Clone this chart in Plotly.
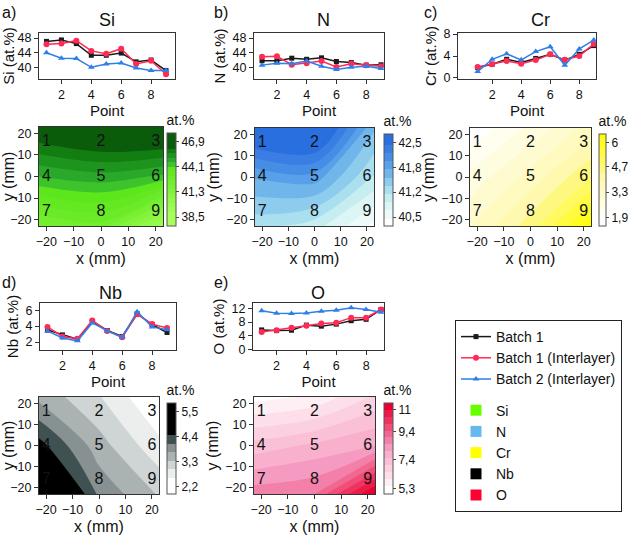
import plotly.graph_objects as go

W, H = 633, 537

points = [1, 2, 3, 4, 5, 6, 7, 8, 9]
elements = ["Si", "N", "Cr", "Nb", "O"]
letters = ["a)", "b)", "c)", "d)", "e)"]
series_names = ["Batch 1", "Batch 1 (Interlayer)", "Batch 2 (Interlayer)"]

# line-plot values (at.%) per point 1..9
si_b1 = [47.1, 47.5, 46.5, 43.3, 43.3, 43.9, 41.5, 42.0, 39.1]
si_b1i = [46.3, 46.5, 47.3, 44.5, 43.7, 45.1, 40.9, 41.8, 38.1]
si_b2i = [44.0, 42.5, 42.4, 40.0, 40.9, 41.2, 39.8, 39.1, 39.1]

n_b1 = [41.8, 41.8, 42.5, 42.2, 42.6, 41.6, 41.3, 40.6, 40.7]
n_b1i = [42.9, 43.0, 40.7, 41.1, 41.7, 40.1, 41.0, 40.6, 40.3]
n_b2i = [40.6, 41.1, 41.0, 41.7, 40.3, 39.4, 40.0, 40.3, 39.7]

cr_b1 = [1.9, 2.5, 3.4, 2.8, 3.55, 4.3, 3.25, 4.3, 5.9]
cr_b1i = [2.0, 2.5, 3.1, 2.6, 3.25, 4.3, 3.3, 4.0, 6.2]
cr_b2i = [1.15, 3.4, 4.4, 3.3, 4.8, 5.7, 2.3, 5.3, 6.9]

nb_b1 = [3.5, 2.9, 2.35, 4.6, 3.45, 2.7, 5.55, 4.2, 3.2]
nb_b1i = [3.9, 2.7, 2.4, 4.7, 3.4, 2.6, 5.5, 4.25, 3.75]
nb_b2i = [3.4, 2.5, 2.15, 4.4, 3.4, 2.6, 5.8, 3.9, 3.55]

o_b1 = [5.7, 5.5, 5.6, 7.1, 6.8, 7.4, 8.4, 8.8, 11.7]
o_b1i = [5.1, 5.6, 6.3, 6.9, 7.6, 7.8, 9.3, 9.3, 11.7]
o_b2i = [11.35, 10.6, 10.5, 10.7, 11.2, 11.5, 12.2, 11.7, 10.9]

# mapped values, rows ordered bottom (7,8,9), middle (4,5,6), top (1,2,3)
si_map = [[42.0, 42.4, 39.3], [44.6, 44.9, 44.5], [46.8, 47.3, 47.4]]
n_map = [[41.2, 41.0, 40.4], [41.8, 41.9, 41.1], [42.9, 43.0, 41.6]]
cr_map = [[3.4, 4.6, 6.5], [2.6, 3.6, 4.8], [1.6, 2.6, 3.6]]
nb_map = [[5.9, 4.0, 3.3], [4.6, 3.5, 2.7], [3.6, 3.0, 2.2]]
o_map = [[8.8, 9.0, 11.6], [7.2, 7.6, 8.0], [5.3, 5.6, 6.6]]

grid_x = [-22.7, 0, 22.7]   # sample extent (mm)
grid_y = [-23, 0, 23]
label_x = [-20, 0, 20, -20, 0, 20, -20, 0, 20]
label_y = [16, 16, 16, 0, 0, 0, -16.5, -16.5, -16.5]
label_text = [str(p) for p in points]

cbar_ticks = {
    "Si": ([38.5, 41.3, 44.1, 46.9], ["38,5", "41,3", "44,1", "46,9"]),
    "N": ([40.5, 41.17, 41.83, 42.5], ["40,5", "41,2", "41,8", "42,5"]),
    "Cr": ([1.9, 3.3, 4.7, 6.0], ["1,9", "3,3", "4,7", "6"]),
    "Nb": ([2.2, 3.3, 4.4, 5.5], ["2,2", "3,3", "4,4", "5,5"]),
    "O": ([5.3, 7.4, 9.4, 11.0], ["5,3", "7,4", "9,4", "11"]),
}
line_yticks = {"Si": [40, 44, 48], "N": [40, 44, 48], "Cr": [0, 4, 8],
               "Nb": [2, 4, 6], "O": [0, 4, 8, 12]}

line_data = {"Si": (si_b1, si_b1i, si_b2i), "N": (n_b1, n_b1i, n_b2i),
             "Cr": (cr_b1, cr_b1i, cr_b2i), "Nb": (nb_b1, nb_b1i, nb_b2i),
             "O": (o_b1, o_b1i, o_b2i)}
map_data = {"Si": si_map, "N": n_map, "Cr": cr_map, "Nb": nb_map, "O": o_map}

# ---------- styling / layout (pixels) ----------
line_colors = ["#1a1a1a", "#ff2a55", "#2f7fe8"]
symbols = ["square", "circle", "triangle-up"]
msizes = [5, 6, 6]


def hex2rgb(h):
    h = h.lstrip("#")
    return [int(h[i:i + 2], 16) for i in (0, 2, 4)]


def ramp(c0, c1, n):
    a, b = hex2rgb(c0), hex2rgb(c1)
    out = []
    for k in range(n):
        t = k / (n - 1) if n > 1 else 0
        out.append("#%02x%02x%02x" % tuple(round(a[j] + (b[j] - a[j]) * t) for j in range(3)))
    return out


# contour levels: (start, size, count); band colours bottom -> top (count + 1)
levels = {"Si": (39.1, 0.5, 15), "N": (40.46, 0.22, 10), "Cr": (2.0, 0.47, 10),
          "Nb": (2.6, 0.37, 6), "O": (5.5, 0.5, 12)}
bands = {
    "Si": ramp("#a8ff5a", "#5ce61c", 11) + ["#3cc42a", "#2aa82a", "#1d941d", "#127e12", "#0a5c0a"],
    "N": ["#ffffff", "#eefafa", "#dcf5f5", "#c6eef0", "#aadfef", "#8ecced", "#70b6eb",
          "#58a0e9", "#468de6", "#3a7ee4", "#2a6fe0"],
    "Cr": ramp("#ffffff", "#fff9b0", 6) + ramp("#fff6a0", "#ffff00", 6)[1:],
    "Nb": ["#ffffff", "#eceeee", "#cfd5d5", "#aab2b2", "#879191", "#3f5151", "#000000"],
    "O": ramp("#ffffff", "#f8b0cc", 6) + ramp("#f59ac0", "#ea0030", 7),
}
zlims = {"Si": (37.5, 47.85), "N": (40.26, 42.73), "Cr": (1.46, 6.45), "Nb": (1.88, 5.87),
         "O": (4.9, 11.5)}

# [line x0,x1,y0,y1], [map x0,x1,y0,y1], colorbar x, cbar thickness, line xrange, line yrange
panel = {
    "Si": ((39, 175, 33, 79), (39, 163, 127, 226), 167, 9, [0.5, 9.6], [36.8, 49.4]),
    "N": ((254, 384, 33, 79), (255, 374, 128, 226), 384, 9, [0.46, 9.2], [36.8, 49.4]),
    "Cr": ((458, 596, 33, 79), (470, 591, 128, 226), 599, 7, [-0.35, 9.15], [-0.2, 8.2]),
    "Nb": ((40, 176, 303, 350), (39, 159, 397, 494), 167, 9, [0.5, 9.6], [1.0, 6.9]),
    "O": ((253, 384, 303, 350), (254, 375, 397, 494), 384, 9, [0.42, 9.2], [-0.2, 13.6]),
}
title_pos = {"Si": (107, 20), "N": (323, 20), "Cr": (540, 20), "Nb": (110, 293), "O": (318, 293)}
letter_pos = {"Si": (0, 2), "N": (212, 2), "Cr": (422, 2), "Nb": (0, 272), "O": (212, 272)}
CB_TITLE_H = 15

FONT = "Liberation Sans, Arial, sans-serif"


def fx(px):
    return px / W


def fy(py):
    return 1 - py / H


fig = go.Figure()
layout = dict(
    width=W, height=H, margin=dict(l=0, r=0, t=0, b=0, autoexpand=False),
    paper_bgcolor="white", plot_bgcolor="white",
    font=dict(family=FONT, size=12, color="#111"),
    showlegend=True,
    annotations=[],
)

axis_common = dict(showline=True, linecolor="#333", linewidth=1, mirror=True,
                   ticks="outside", ticklen=4, tickcolor="#333", showgrid=False,
                   zeroline=False, tickfont=dict(size=12.5, color="#111"))

for i, el in enumerate(elements):
    lx, ly = 2 * i + 1, 2 * i + 2
    (l0, l1, lt, lb), (m0, m1, mt, mb), cbx, cbt, xr, yr = panel[el]
    # line plot
    for k in range(3):
        fig.add_trace(go.Scatter(
            x=points, y=line_data[el][k], mode="lines+markers",
            line=dict(color=line_colors[k], width=1.5),
            marker=dict(symbol=symbols[k], size=msizes[k], color=line_colors[k]),
            name=series_names[k], legendgroup="series", showlegend=(i == 0),
            xaxis=f"x{lx}", yaxis=f"y{lx}"))
    layout[f"xaxis{lx}"] = dict(axis_common, domain=[fx(l0), fx(l1)], anchor=f"y{lx}",
                                range=xr, tickvals=[2, 4, 6, 8],
                                title=dict(text="Point", font=dict(size=15), standoff=2))
    layout[f"yaxis{lx}"] = dict(axis_common, domain=[fy(lb), fy(lt)], anchor=f"x{lx}",
                                range=yr, tickvals=line_yticks[el],
                                title=dict(text=f"{el} (at.%)", font=dict(size=15), standoff=3))
    # contour map
    s0, ss, nlev = levels[el]
    bl = bands[el]
    cscale = [[j / (len(bl) - 1), c] for j, c in enumerate(bl)]
    z0, z1 = zlims[el]
    tv, tt = cbar_ticks[el]
    fig.add_trace(go.Contour(
        x=grid_x, y=grid_y, z=map_data[el], colorscale=cscale,
        contours=dict(start=s0, end=s0 + ss * (nlev - 1), size=ss, coloring="fill",
                      showlines=False),
        line=dict(width=0), zmin=z0, zmax=z1, showlegend=False,
        colorbar=dict(x=fx(cbx), xanchor="left", xpad=0, thickness=cbt,
                      lenmode="pixels", len=mb - mt + CB_TITLE_H,
                      y=fy(mt - CB_TITLE_H), yanchor="top",
                      ypad=0, outlinewidth=1, outlinecolor="#555", ticks="outside",
                      ticklen=3, tickvals=tv, ticktext=tt, tickfont=dict(size=12),
                      title=dict(text="at.%", side="top", font=dict(size=14))),
        xaxis=f"x{ly}", yaxis=f"y{ly}", hoverinfo="skip"))
    fig.add_trace(go.Scatter(
        x=label_x, y=label_y, text=label_text, mode="text",
        textfont=dict(size=16, color="#111"), showlegend=False,
        xaxis=f"x{ly}", yaxis=f"y{ly}", hoverinfo="skip"))
    layout[f"xaxis{ly}"] = dict(axis_common, domain=[fx(m0), fx(m1)], anchor=f"y{ly}",
                                range=[grid_x[0], grid_x[-1]], tickvals=[-20, -10, 0, 10, 20],
                                title=dict(text="x (mm)", font=dict(size=16), standoff=4))
    layout[f"yaxis{ly}"] = dict(axis_common, domain=[fy(mb), fy(mt)], anchor=f"x{ly}",
                                range=[grid_y[0], grid_y[-1]], tickvals=[-20, -10, 0, 10, 20],
                                title=dict(text="y (mm)", font=dict(size=16), standoff=2))
    tx, ty = title_pos[el]
    layout["annotations"].append(dict(text=el, x=fx(tx), y=fy(ty), xref="paper", yref="paper",
                                      showarrow=False, font=dict(size=18), xanchor="center",
                                      yanchor="middle"))
    gx, gy = letter_pos[el]
    layout["annotations"].append(dict(text=letters[i], x=fx(gx), y=fy(gy), xref="paper", yref="paper",
                                      showarrow=False, font=dict(size=16), xanchor="left",
                                      yanchor="top"))

swatch_colors = ["#66ff00", "#66b8ee", "#ffff00", "#000000", "#ff0033"]
for el, c in zip(elements, swatch_colors):
    fig.add_trace(go.Scatter(x=[None], y=[None], mode="markers",
                             marker=dict(symbol="square", size=11, color=c),
                             name=el, legendgroup="elements", xaxis="x1", yaxis="y1"))

layout["legend"] = dict(x=fx(455), y=fy(320), xanchor="left", yanchor="top",
                        bordercolor="#222", borderwidth=1, bgcolor="white",
                        font=dict(size=14, color="#111"), tracegroupgap=10,
                        traceorder="grouped", itemwidth=30)
fig.update_layout(**layout)
fig.write_html("out.html", config={"displayModeBar": False},
               post_script="document.body.style.margin='0px';document.body.style.overflow='hidden';")
